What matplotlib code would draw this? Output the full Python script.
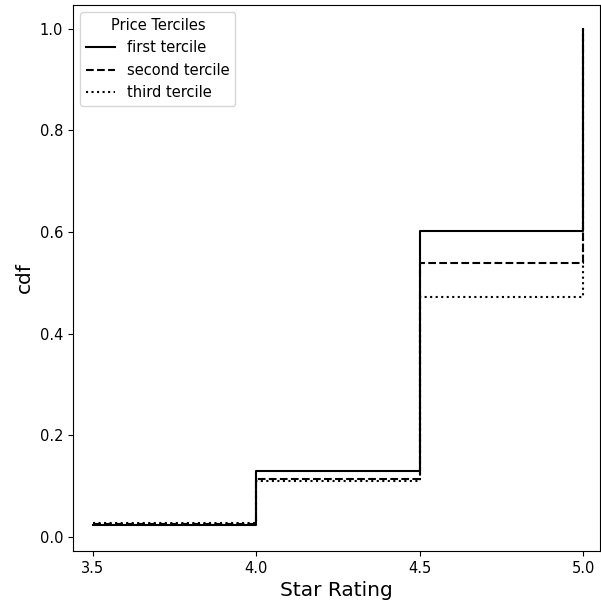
import matplotlib
matplotlib.use("Agg")
import matplotlib.pyplot as plt

# estrellas y cdf por tercil de precio
estrellas = [3.5, 4.0, 4.5, 5.0]
cdf_primero = [0.024, 0.130, 0.603, 1.0]
cdf_segundo = [0.025, 0.114, 0.540, 1.0]
cdf_tercero = [0.027, 0.110, 0.472, 1.0]
etiquetas = ['first tercile', 'second tercile', 'third tercile']
estilos = ['-', '--', ':']

fig = plt.figure(figsize=(6.01, 6.01), dpi=100)
ax = fig.add_axes([73 / 601, 50 / 601, 527 / 601, 546 / 601])

for datos, etiqueta, estilo in zip([cdf_primero, cdf_segundo, cdf_tercero], etiquetas, estilos):
    ax.step(estrellas, datos, where='post', color='black', linestyle=estilo,
            linewidth=1.5, label=etiqueta)

ax.set_xlim(3.439, 5.052)
ax.set_ylim(-0.0276, 1.047)
ax.set_xticks([3.5, 4.0, 4.5, 5.0])
ax.set_yticks([0.0, 0.2, 0.4, 0.6, 0.8, 1.0])
ax.tick_params(labelsize=10.5)
ax.set_xlabel('Star Rating', fontsize=14.5)
ax.set_ylabel('cdf', fontsize=14.5)
ax.legend(title='Price Terciles', loc='upper left', fontsize=10.5, title_fontsize=10.5)

fig.savefig('out.png', dpi=100)
